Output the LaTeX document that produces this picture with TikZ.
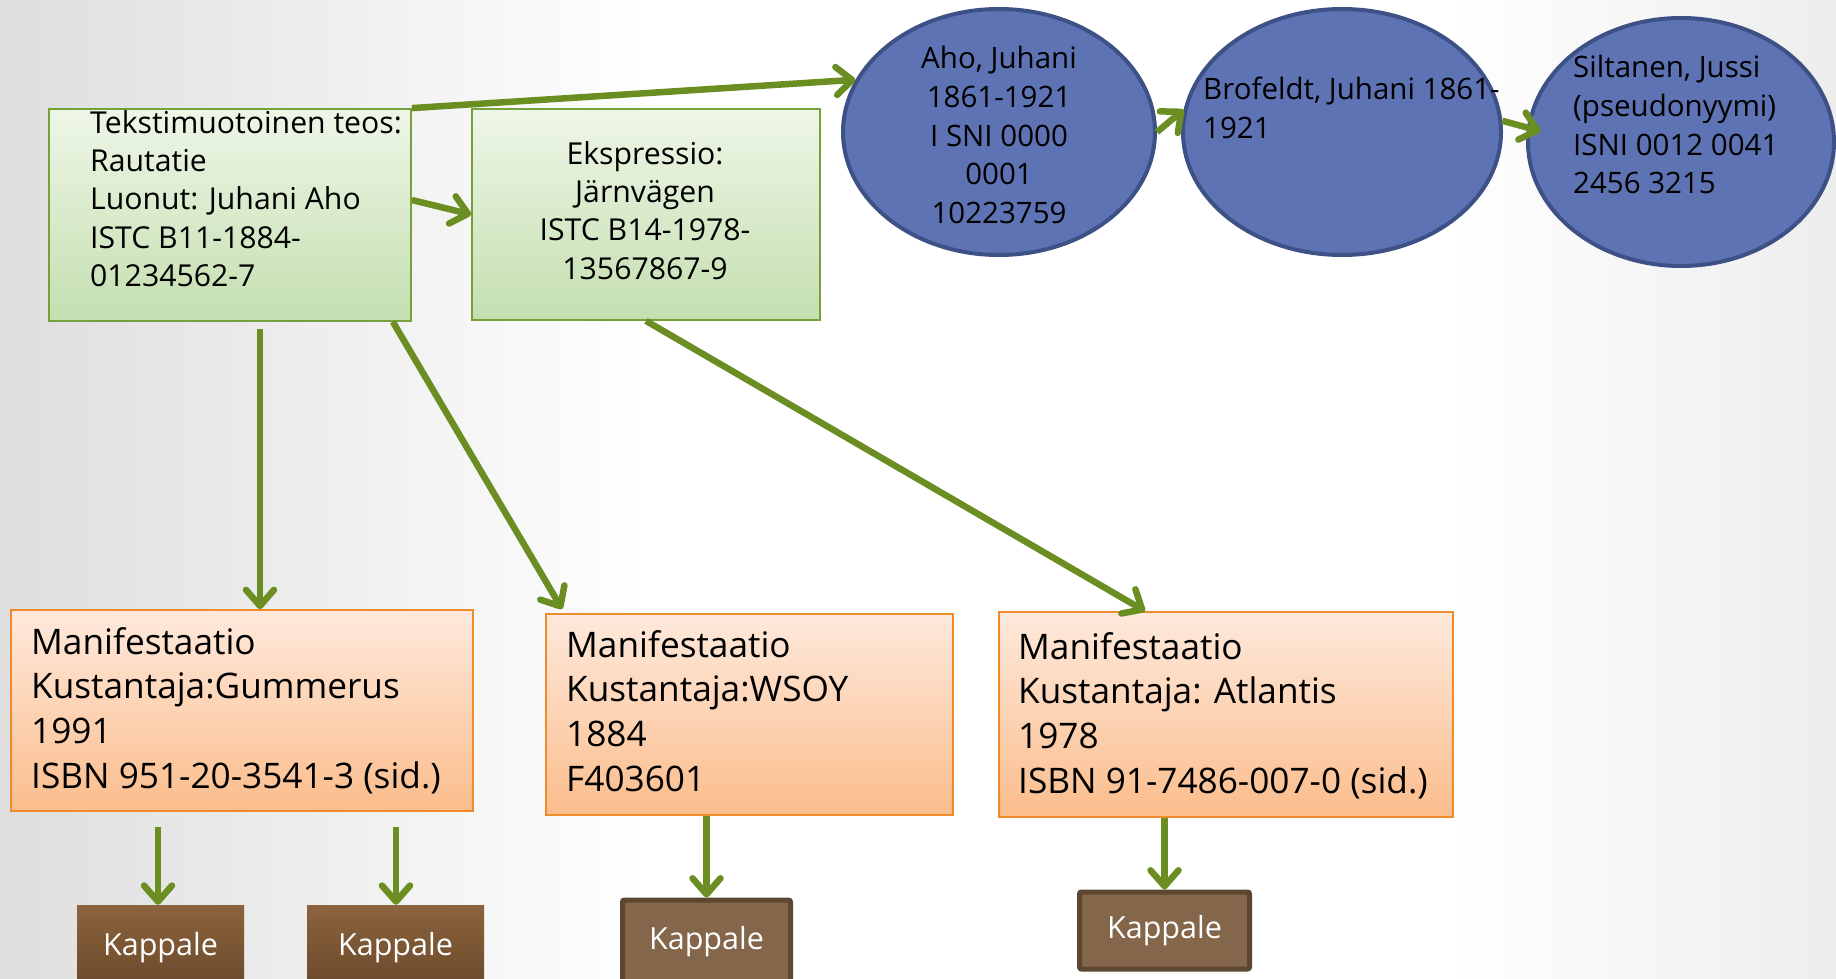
\documentclass[tikz,border=0pt]{standalone}
\usepackage{fontspec}
\setmainfont{Open Sans}
\usetikzlibrary{arrows.meta,shapes.geometric,calc}
\definecolor{arr}{HTML}{6B8E23}
\definecolor{gtop}{HTML}{EEF6E7}
\definecolor{gbot}{HTML}{C4DFB0}
\definecolor{gline}{HTML}{76A03A}
\definecolor{otop}{HTML}{FEE9DC}
\definecolor{obot}{HTML}{FBBD8C}
\definecolor{oline}{HTML}{EE8B2C}
\definecolor{efill}{HTML}{5D73B3}
\definecolor{eline}{HTML}{3E5186}
\definecolor{ktop}{HTML}{8C633C}
\definecolor{kbot}{HTML}{69492B}
\definecolor{kfill}{HTML}{84674A}
\definecolor{kline}{HTML}{5D4732}
\tikzset{
  conn/.style={draw=arr, line width=6.5pt, -{Straight Barb[length=16pt,width=28pt,round]}},
  greenbox/.style={rectangle, draw=gline, line width=1.8pt, top color=gtop, bottom color=gbot, inner sep=0pt},
  orangebox/.style={rectangle, draw=oline, line width=1.8pt, top color=otop, bottom color=obot, inner sep=0pt},
  person/.style={ellipse, draw=eline, line width=4pt, fill=efill, inner sep=0pt},
  kapA/.style={rectangle, top color=ktop, bottom color=kbot, inner sep=0pt, text=white, font=\fontsize{30.5}{34}\selectfont},
  kapB/.style={rectangle, rounded corners=2pt, draw=kline, line width=5pt, fill=kfill, inner sep=0pt, text=white, font=\fontsize{30.5}{34}\selectfont},
  otext/.style={inner sep=0pt, align=left, anchor=north west, font=\fontsize{35.2}{44.8}\selectfont},
  gtext/.style={inner sep=0pt, anchor=north west, font=\fontsize{30.2}{38.3}\selectfont},
  etext/.style={inner sep=0pt, font=\fontsize{29.5}{38.7}\selectfont},
}
\begin{document}
\begin{tikzpicture}[x=1pt,y=-1pt]
\useasboundingbox (0,0) rectangle (1836,979);
\clip (0,0) rectangle (1836,979);
\fill[white] (0,0) rectangle (1836,979);
\shade[left color=black!13, right color=white] (0,0) rectangle (650,979);
\shade[left color=white, right color=black!7] (1450,0) rectangle (1836,979);

% work and expression
\node[greenbox, minimum width=362pt, minimum height=212pt] (b1) at (230,215) {};
\node[greenbox, minimum width=348pt, minimum height=211pt] (b2) at (646,214.5) {};
\node[gtext, align=left] (t1) at (90,110) {Tekstimuotoinen teos:\\Rautatie\\Luonut: Juhani Aho\\ISTC B11-1884-\\01234562-7};
\node[gtext, align=center, anchor=north] (t2) at (645,141) {Ekspressio:\\Järnvägen\\ISTC B14-1978-\\13567867-9};

% persons
\node[person, minimum width=312pt, minimum height=246pt] (e1) at (999,132) {};
\node[person, minimum width=318pt, minimum height=246pt] (e2) at (1342,132) {};
\node[person, minimum width=306pt, minimum height=248pt] (e3) at (1681,142) {};
\node[etext, align=center, anchor=north] (te1) at (999,46) {Aho, Juhani\\1861-1921\\I SNI 0000\\0001\\10223759};
\node[etext, align=left, anchor=north west] (te2) at (1203,77) {Brofeldt, Juhani 1861-\\1921};
\node[etext, align=left, anchor=north west] (te3) at (1573,55) {Siltanen, Jussi\\(pseudonyymi)\\ISNI 0012 0041\\2456 3215};

% manifestations
\node[orangebox, minimum width=462pt, minimum height=201pt] (o1) at (242,710.5) {};
\node[orangebox, minimum width=407pt, minimum height=201pt] (o2) at (749.5,714.5) {};
\node[orangebox, minimum width=454pt, minimum height=205pt] (o3) at (1226,714.5) {};
\node[otext] (to1) at (31,627) {Manifestaatio\\Kustantaja:Gummerus\\1991\\ISBN 951-20-3541-3 (sid.)};
\node[otext] (to2) at (566,630) {Manifestaatio\\Kustantaja:WSOY\\1884\\F403601};
\node[otext] (to3) at (1018,632) {Manifestaatio\\Kustantaja: Atlantis\\1978\\ISBN 91-7486-007-0 (sid.)};

% items
\node[kapA, minimum width=167pt, minimum height=86pt] (k1) at (160.5,948) {Kappale};
\node[kapA, minimum width=177pt, minimum height=86pt] (k2) at (395.5,948) {Kappale};
\node[kapB, minimum width=168pt, minimum height=84pt] (k3) at (706.5,942) {Kappale};
\node[kapB, minimum width=170pt, minimum height=77pt] (k4) at (1164.5,930.5) {Kappale};

% connectors
\draw[conn] (b1.north east) -- (e1.160);
\draw[conn] ([yshift=15pt]b1.east) -- (b2.west);
\draw[conn] (e1.east) -- (e2.172);
\draw[conn] (e2.4) -- ([xshift=14pt]e3.176);
\draw[conn] ([xshift=30pt,yshift=-7pt]b1.south) -- ([xshift=18pt]o1.north);
\draw[conn] ([xshift=-19pt]b1.south east) -- ([xshift=17pt,yshift=4pt]o2.north west);
\draw[conn] (b2.south) -- ([xshift=-81pt]o3.north);
\coordinate (s1) at (158,827);
\coordinate (s2) at (396,827);
\draw[conn] (s1) -- (k1.north -| s1);
\draw[conn] (s2) -- (k2.north -| s2);
\draw[conn] (k3.north |- o2.south) -- (k3.north);
\draw[conn] (k4.north |- o3.south) -- (k4.north);
\end{tikzpicture}
\end{document}
